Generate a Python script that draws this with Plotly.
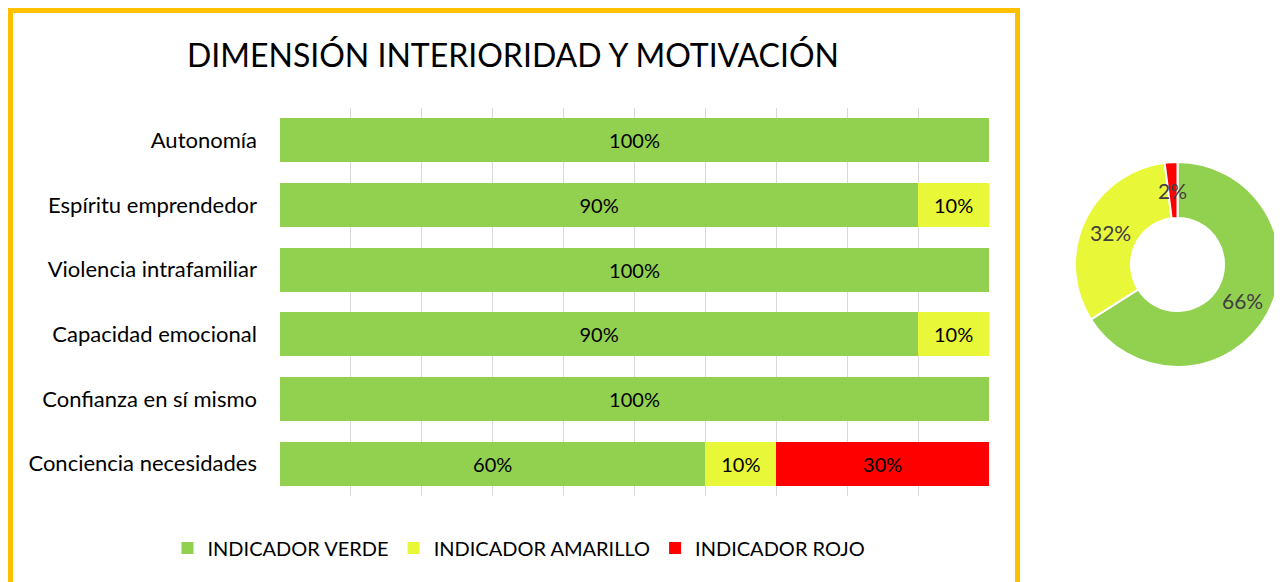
import math
import plotly.graph_objects as go

categories = ["Autonomía", "Espíritu emprendedor", "Violencia intrafamiliar",
              "Capacidad emocional", "Confianza en sí mismo", "Conciencia necesidades"]
verde = [100, 90, 100, 90, 100, 60]
amarillo = [0, 10, 0, 10, 0, 10]
rojo = [0, 0, 0, 0, 0, 30]

pie_labels = ["INDICADOR VERDE", "INDICADOR AMARILLO", "INDICADOR ROJO"]
pie_values = [66, 32, 2]

colors = ["#92D050", "#E9F739", "#FF0000"]
FONT = "Lato"
OFF = 8  # page body margin
W, H = 1282 - OFF, 582 - OFF


def px(x):
    return (x - OFF) / W


def py(y):
    return 1 - (y - OFF) / H


fig = go.Figure()
for name, vals, col in zip(pie_labels, [verde, amarillo, rojo], colors):
    fig.add_trace(go.Bar(
        y=categories, x=vals, name=name, orientation="h",
        marker=dict(color=col, line=dict(width=0)),
        text=[f"{v}%" if v > 0 else "" for v in vals],
        textposition="inside", insidetextanchor="middle",
        textfont=dict(family=FONT, size=20, color="black"),
        hoverinfo="skip",
    ))

# donut
x0, x1 = 1075, 1280
y0, y1 = 162, 367
fig.add_trace(go.Pie(
    labels=pie_labels, values=pie_values, hole=0.454, sort=False,
    direction="clockwise", rotation=0,
    marker=dict(colors=colors, line=dict(color="white", width=2)),
    textinfo="none", showlegend=False,
    domain=dict(x=[px(x0), px(x1)], y=[py(y1), py(y0)]),
))

annotations = []
cx, cy = (x0 + x1) / 2, (y0 + y1) / 2
r_mid = 74
total = sum(pie_values)
cum = 0
for v in pie_values:
    mid = (cum + v / 2) / total * 2 * math.pi
    cum += v
    x = cx + r_mid * math.sin(mid)
    y = cy - r_mid * math.cos(mid)
    annotations.append(dict(x=px(x), y=py(y), xref="paper", yref="paper",
                            text=f"{v}%", showarrow=False,
                            xanchor="center", yanchor="middle",
                            font=dict(family=FONT, size=21, color="#404040")))

annotations.append(dict(x=px(513), y=py(55), xref="paper", yref="paper",
                        text="DIMENSIÓN INTERIORIDAD Y MOTIVACIÓN", showarrow=False,
                        xanchor="center", yanchor="middle",
                        font=dict(family=FONT, size=32, color="black")))

fig.update_layout(
    width=W, height=H, autosize=False,
    margin=dict(l=0, r=0, t=0, b=0),
    paper_bgcolor="white", plot_bgcolor="white",
    barmode="stack", bargap=0.32,
    font=dict(family=FONT, color="black"),
    xaxis=dict(domain=[px(280), px(989)], range=[0, 100], dtick=10,
               showgrid=True, gridcolor="#D9D9D9", gridwidth=1,
               showticklabels=False, zeroline=False, fixedrange=True),
    yaxis=dict(domain=[py(496), py(108)], autorange="reversed",
               showgrid=False, ticks="", ticklabelstandoff=22,
               tickfont=dict(family=FONT, size=22, color="black")),
    legend=dict(orientation="h", x=px(519), xanchor="center",
                y=py(548), yanchor="middle",
                font=dict(family=FONT, size=20, color="black"),
                traceorder="normal"),
    annotations=annotations,
    shapes=[dict(type="rect", xref="paper", yref="paper",
                 x0=px(10.5), x1=px(1017.5), y0=-0.2, y1=py(10.5),
                 line=dict(color="#FFC000", width=5), layer="above")],
)

fig.write_html("out.html")
